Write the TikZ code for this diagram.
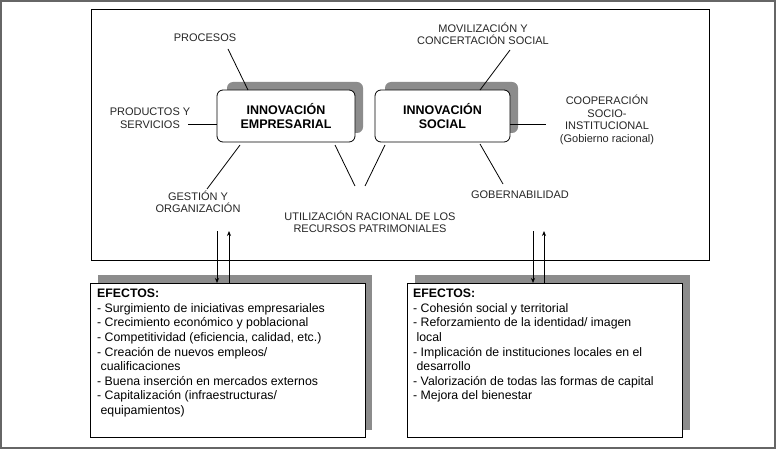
\documentclass[tikz,border=0pt]{standalone}
\usepackage{fontspec}
\setmainfont{Liberation Sans}
\usetikzlibrary{arrows.meta}
\begin{document}
\begin{tikzpicture}[x=1pt,y=-1pt,
  lbl/.style={font=\fontsize{11}{12.5}\selectfont,align=center,inner sep=0pt,text=black!85},
  ln/.style={line width=0.8pt},
  arr/.style={line width=0.8pt,-{Stealth[length=5pt,width=4pt]}},
  shad/.style={fill=black!45,draw=none},
  inn/.style={draw,line width=0.8pt,rounded corners=6pt,fill=white,minimum width=138pt,minimum height=52pt,align=center,font=\bfseries\fontsize{12.5}{14.5}\selectfont},
  efx/.style={draw,line width=0.8pt,fill=white,minimum width=275pt,minimum height=154pt,anchor=north west,inner sep=0pt},
  eft/.style={anchor=north west,align=left,inner sep=0pt,font=\fontsize{12.3}{14.6}\selectfont}]
\useasboundingbox (0,0) rectangle (776,449);
\fill[white] (0,0) rectangle (776,449);
\draw[black!60,line width=2pt] (1,1) rectangle (775,448);
\draw[line width=0.8pt] (91,9) rectangle (709,260);
% shadows
\fill[shad,rounded corners=6pt] (227,82) rectangle (363,133);
\fill[shad,rounded corners=6pt] (385,82) rectangle (518,133);
\node[inn] (emp) at (286,116) {INNOVACIÓN\\EMPRESARIAL};
\node[inn,minimum width=135pt] (soc) at (442.5,116) {INNOVACIÓN\\SOCIAL};
% labels
\node[lbl] (proc) at (205,38) {PROCESOS};
\node[lbl] (prod) at (150,118) {PRODUCTOS Y\\SERVICIOS};
\node[lbl] (gest) at (198,202) {GESTIÓN Y\\ORGANIZACIÓN};
\node[lbl] (util) at (370,222) {UTILIZACIÓN RACIONAL DE LOS\\RECURSOS PATRIMONIALES};
\node[lbl] (movi) at (483,34) {MOVILIZACIÓN Y\\CONCERTACIÓN SOCIAL};
\node[lbl] (coop) at (607,120) {COOPERACIÓN\\SOCIO-\\INSTITUCIONAL\\(Gobierno racional)};
\node[lbl] (gob) at (520,195) {GOBERNABILIDAD};
\coordinate (u1) at (355,186); \coordinate (u2) at (365,186);
\draw[ln] (228,49) -- (248,90);
\draw[ln] (188,124) -- (emp.west |- 0,124);
\draw[ln] (207,189) -- (240,145);
\draw[ln] (335,145) -- (u1);
\draw[ln] (385,145) -- (u2);
\draw[ln] (480,90) -- (510,50);
\draw[ln] (soc.east |- 0,124) -- (546,124);
\draw[ln] (480,144) -- (503,184);
% effects boxes
\fill[shad] (98,275) rectangle (372,430);
\fill[shad] (415,275) rectangle (690,430);
\node[efx] (e1) at (90,283) {};
\node[efx] (e2) at (407,283) {};
\coordinate (a1) at (217,231); \coordinate (a2) at (229,231);
\coordinate (a3) at (533,231); \coordinate (a4) at (544,231);
\draw[arr] (a1) -- (a1 |- e1.north);
\draw[arr] (a2 |- e1.north) -- (a2);
\draw[arr] (a3) -- (a3 |- e2.north);
\draw[arr] (a4 |- e2.north) -- (a4);
\node[eft] (t1) at (97,289) {\textbf{EFECTOS:}\\
- Surgimiento de iniciativas empresariales\\
- Crecimiento económico y poblacional\\
- Competitividad (eficiencia, calidad, etc.)\\
- Creación de nuevos empleos/\\
\ cualificaciones\\
- Buena inserción en mercados externos\\
- Capitalización (infraestructuras/\\
\ equipamientos)};
\node[eft] (t2) at (413,289) {\textbf{EFECTOS:}\\
- Cohesión social y territorial\\
- Reforzamiento de la identidad/ imagen\\
\ local\\
- Implicación de instituciones locales en el\\
\ desarrollo\\
- Valorización de todas las formas de capital\\
- Mejora del bienestar};
\end{tikzpicture}
\end{document}
